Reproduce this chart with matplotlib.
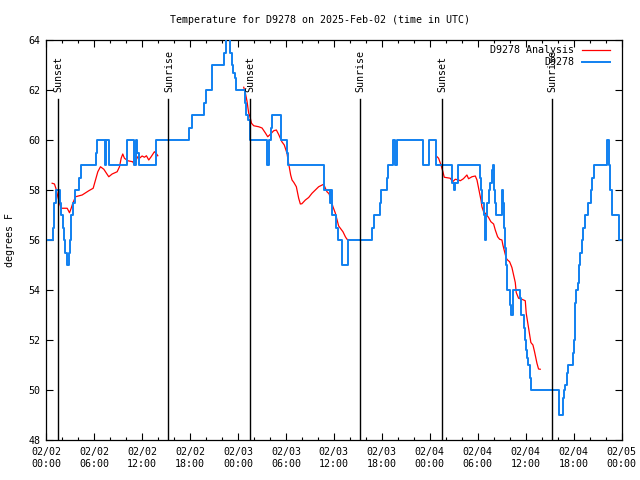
import numpy as np
import matplotlib
matplotlib.use('Agg')
import matplotlib.pyplot as plt

plt.rcParams['font.family'] = ['DejaVu Sans Mono']
plt.rcParams['font.size'] = 7.2

# hours after 2025-02-02 00:00 UTC, observed temperature (step data)
obs_hours = [0.2, 0.85, 1.06, 1.19, 1.69, 1.9, 2.1, 2.23, 2.4, 2.6, 2.85, 3.0, 3.15, 3.4, 3.6,
             4.1, 4.4, 6.2, 6.4, 7.4, 7.55, 7.9, 10.1, 11.0, 11.2, 11.4, 11.6, 13.7,
             17.9, 18.3, 19.8, 20.0, 20.7, 22.3, 22.5, 23.0, 23.25, 23.4, 23.6, 23.8,
             24.9, 25.06, 25.3, 25.48, 27.7, 27.85, 28.2, 28.3, 29.4, 30.1, 30.27,
             34.73, 35.56, 35.7, 35.77, 36.3, 36.48, 37.0, 37.73, 40.8, 40.98, 41.8, 41.94,
             42.6, 42.77, 43.35, 43.7, 43.95, 47.1, 47.95, 48.8, 50.77, 50.98, 51.2, 51.5,
             54.3, 54.45, 54.55, 54.73, 54.92, 55.0, 55.2, 55.35, 55.56, 55.77, 55.85, 55.98,
             56.1, 56.27, 57.0, 57.1, 57.23, 57.35, 57.5, 57.64, 58.06, 58.2, 58.35,
             59.3, 59.4, 59.73, 59.85, 60.06, 60.15, 60.23, 60.55, 60.64, 64.1, 64.19,
             64.6, 64.73, 64.94, 65.1, 65.27, 65.85, 65.98, 66.1, 66.19, 66.31, 66.48,
             66.6, 66.8, 67.0, 67.2, 67.4, 67.8, 68.1, 68.3, 68.5, 70.1, 70.2, 70.35,
             70.56, 70.77, 71.6, 71.94]
obs_temps = [56, 56.5, 57.5, 58, 57.5, 57, 56.5, 56, 55.5, 55, 55.5, 56, 57, 57.5, 58,
             58.5, 59, 59.5, 60, 59, 60, 59, 60, 59, 60, 59.5, 59, 60,
             60.5, 61, 61.5, 62, 63, 63.5, 65, 63.5, 63, 62.7, 62.5, 62,
             61.5, 61, 60.8, 60, 59, 60, 60.5, 61, 60, 59.5, 59,
             58, 57.5, 58, 57, 56.5, 56, 55, 56, 56.5, 57, 57.5, 58,
             58.5, 59, 60, 59, 60, 59, 60, 59, 58.3, 58, 58.3, 59,
             58.5, 58, 57.5, 57, 56, 57, 57.5, 58, 58.3, 58.8, 59, 58,
             57.5, 57, 58, 57.5, 56.5, 55.7, 55, 54, 53.4, 53, 54,
             53.7, 53, 52.5, 52, 51.6, 51.3, 51, 50.5, 50, 49.7, 49,
             49.7, 50, 50.2, 50.7, 51, 51.5, 52, 52.5, 53.5, 54, 54.3,
             55, 55.5, 56, 56.5, 57, 57.5, 58, 58.5, 59, 59.5, 60, 59,
             58, 57, 56, 56]

# analysis (NaN splits the three daily runs)
ana_hours = [0.77, 1.06, 1.27, 1.48, 1.69, 1.9, 2.65, 2.94, 3.15, 3.35, 3.69, 4.52, 5.35,
             5.9, 6.19, 6.48, 6.81, 7.23, 7.85, 8.27, 8.9, 9.19, 9.4, 9.6, 9.81, 10.23,
             10.85, 11.06, 11.27, 11.48, 11.69, 12.02, 12.31, 12.56, 12.85, 13.15, 13.56,
             13.77, 13.98, np.nan,
             24.73, 24.94, 25.14, 25.35, 25.5, 25.7, 25.98, 26.6, 27.02, 27.44, 27.73,
             28.06, 28.48, 28.81, 29.1, 29.5, 29.8, 30.14, 30.27, 30.43, 30.6, 30.77,
             31.0, 31.31, 31.6, 31.81, 32.0, 32.44, 32.85, 33.27, 33.69, 34.1, 34.52,
             34.73, 34.94, 35.14, 35.4, 35.64, 35.89, 36.19, 36.4, 36.6, 36.81, 37.14,
             37.44, 37.64, 37.98, np.nan,
             48.81, 49.1, 49.4, 49.64, 49.81, 50.56, 50.85, 51.19, 51.6, 51.81, 52.2,
             52.64, 52.85, 53.27, 53.69, 53.9, 54.1, 54.23, 54.4, 54.52, 54.73, 55.0,
             55.35, 55.64, 55.98, 56.19, 56.48, 56.73, 57.02, 57.14, 57.35, 57.56,
             57.73, 57.98, 58.27, 58.48, 58.69, 58.81, 59.1, 59.52, 59.94, 60.06,
             60.23, 60.4, 60.56, 60.64, 60.9, 61.1, 61.27, 61.4, 61.6, 61.81]
ana_temps = [58.27, 58.24, 58.03, 57.73, 57.47, 57.27, 57.27, 57.09, 57.27, 57.47, 57.73,
             57.8, 57.97, 58.07, 58.4, 58.73, 58.93, 58.83, 58.53, 58.64, 58.73, 58.93,
             59.27, 59.44, 59.27, 59.17, 59.13, 59.0, 59.2, 59.33, 59.27, 59.36, 59.31,
             59.37, 59.2, 59.33, 59.53, 59.47, 59.37, np.nan,
             62.11, 61.87, 61.55, 61.07, 60.95, 60.67, 60.57, 60.53, 60.48, 60.28, 60.13,
             60.23, 60.37, 60.4, 60.22, 59.93, 59.8, 59.47, 59.2, 58.9, 58.6, 58.4,
             58.3, 58.13, 57.67, 57.44, 57.45, 57.6, 57.7, 57.87, 58.0, 58.13, 58.2,
             58.23, 58.07, 57.93, 57.85, 57.6, 57.33, 57.07, 56.8, 56.56, 56.47, 56.33,
             56.13, 56.03, 56.0, np.nan,
             59.36, 59.27, 59.0, 58.73, 58.51, 58.47, 58.33, 58.43, 58.4, 58.37, 58.45,
             58.6, 58.45, 58.53, 58.56, 58.4, 58.07, 57.87, 57.6, 57.33, 57.13, 57.05,
             56.9, 56.73, 56.64, 56.4, 56.13, 56.03, 56.0, 55.8, 55.53, 55.27,
             55.2, 55.13, 54.9, 54.6, 54.3, 53.9, 53.67, 53.63, 53.57, 53.07,
             52.73, 52.4, 52.07, 51.9, 51.8, 51.53, 51.27, 51.07, 50.84, 50.83]

sun_hours = [1.47, 15.3, 25.48, 39.23, 49.48, 63.23]
sun_labels = ['Sunset', 'Sunrise', 'Sunset', 'Sunrise', 'Sunset', 'Sunrise']

tick_hours = [0, 6, 12, 18, 24, 30, 36, 42, 48, 54, 60, 66, 72]
tick_labels = ['02/02\n00:00', '02/02\n06:00', '02/02\n12:00', '02/02\n18:00',
               '02/03\n00:00', '02/03\n06:00', '02/03\n12:00', '02/03\n18:00',
               '02/04\n00:00', '02/04\n06:00', '02/04\n12:00', '02/04\n18:00',
               '02/05\n00:00']
temp_ticks = [48, 50, 52, 54, 56, 58, 60, 62, 64]

red = '#ff0000'
blue = '#1080f0'

fig = plt.figure(figsize=(6.4, 4.8), dpi=100)
ax = fig.add_axes([46 / 640, 40 / 480, 575.7 / 640, 400 / 480])

ax.plot(ana_hours, ana_temps, color=red, lw=0.9, zorder=2)
ax.plot(obs_hours, obs_temps, color=blue, lw=1.4, drawstyle='steps-post', zorder=3)

# sunrise / sunset markers
for h, lab in zip(sun_hours, sun_labels):
    ax.axvline(h, ymin=0, ymax=0.8525, color='black', lw=1.0, zorder=4)
    ax.text(h + 0.1, 0.87, lab, transform=ax.get_xaxis_transform(), rotation=90,
            ha='center', va='bottom')

ax.set_xlim(0, 72)
ax.set_ylim(48, 64)
ax.set_xticks(tick_hours)
ax.set_xticklabels(tick_labels)
ax.set_xticks(np.arange(0, 73, 2), minor=True)
ax.set_yticks(temp_ticks)
ax.tick_params(which='both', direction='in', top=True, right=True, width=0.8)
ax.tick_params(which='major', length=5)
ax.tick_params(which='minor', length=2.5)
ax.tick_params(axis='x', pad=5)
ax.tick_params(axis='y', pad=4)
for s in ax.spines.values():
    s.set_linewidth(0.9)

ax.set_ylabel('degrees F')
ax.yaxis.set_label_coords(-0.054, 0.5)

fig.text(0.5, 1 - 20 / 480, 'Temperature for D9278 on 2025-Feb-02 (time in UTC)',
         ha='center', va='center')

# key, top right like gnuplot
for yk, name, col, w in [(0.975, 'D9278 Analysis', red, 0.9), (0.945, 'D9278', blue, 1.4)]:
    ax.text(0.917, yk, name, transform=ax.transAxes, ha='right', va='center')
    ax.plot([0.931, 0.98], [yk, yk], transform=ax.transAxes, color=col, lw=w)

fig.savefig('out.png', dpi=100)
